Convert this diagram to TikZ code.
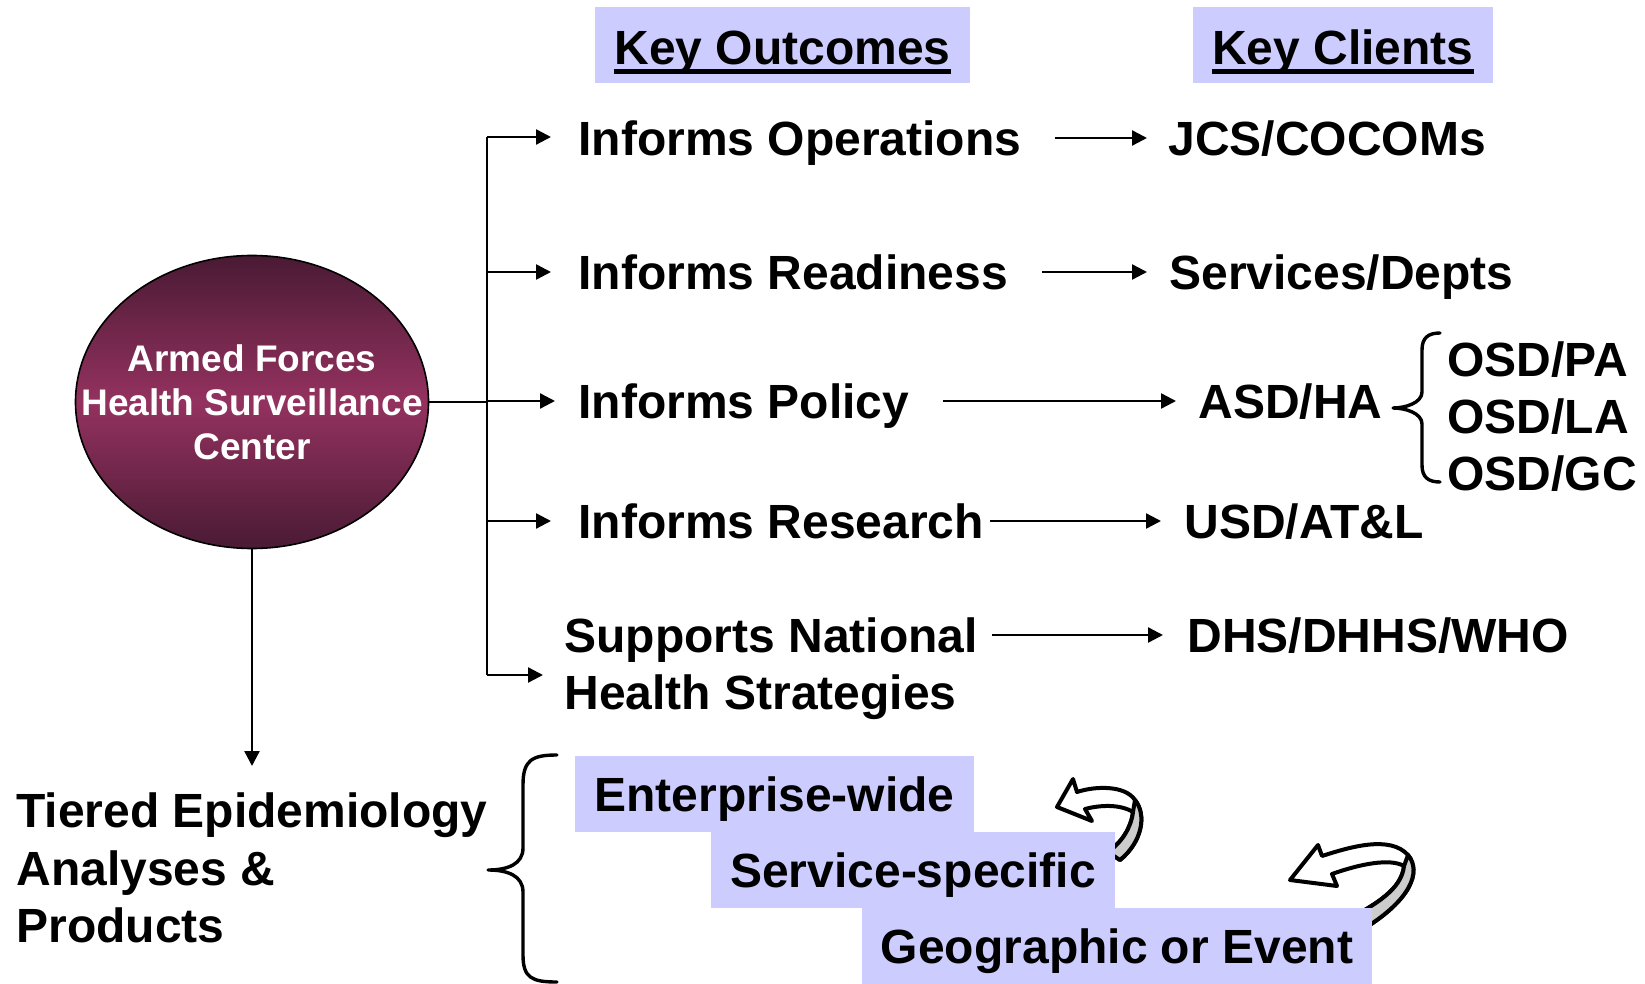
\documentclass[tikz,border=0pt]{standalone}
\usepackage{fontspec}
\setmainfont{Liberation Sans}
\usetikzlibrary{arrows.meta,shapes.geometric}
\definecolor{lav}{HTML}{CCCCFF}
\definecolor{ellDark}{HTML}{4A1A34}
\definecolor{ellMid}{HTML}{94325F}
\definecolor{bandgray}{HTML}{CCCCCC}
\begin{document}
\begin{tikzpicture}[x=0.5pt,y=-0.5pt,
  lbl/.style={font=\fontsize{24}{28.75}\selectfont\bfseries, inner sep=0pt, anchor=west, text height=17.2pt, text depth=0pt},
  multi/.style={inner sep=0pt, anchor=west, align=left},
  arr/.style={line width=1.2pt, -{Triangle[length=7.5pt,width=7.5pt]}},
  conn/.style={line width=1.2pt},
  headbox/.style={fill=lav, inner sep=0pt, minimum height=38pt},
  tbox/.style={fill=lav, inner sep=0pt, minimum height=38pt, font=\fontsize{24}{28.75}\selectfont\bfseries, text height=17.2pt, text depth=0pt},
  ul/.style={line width=2.2pt},
  brace/.style={line width=1.7pt, line cap=round, line join=round},
  curl/.style={line width=2pt, line join=round}
]
\useasboundingbox (0,0) rectangle (1645,984);

% header boxes
\node[headbox, minimum width=187.5pt] (ko) at (782.5,45) {};
\node[lbl, anchor=center] (kot) at ([yshift=-1pt]ko.center) {Key Outcomes};
\draw[ul] ([yshift=-3.5pt]kot.south west) -- ([yshift=-3.5pt]kot.south east);
\node[headbox, minimum width=150pt] (kc) at (1343,45) {};
\node[lbl, anchor=center] (kct) at ([yshift=-1pt]kc.center) {Key Clients};
\draw[ul] ([yshift=-3.5pt]kct.south west) -- ([yshift=-3.5pt]kct.south east);

% ellipse
\node[ellipse, draw=black, line width=0.8pt, minimum width=176.5pt, minimum height=146.5pt, inner sep=0pt,
      top color=ellDark, bottom color=ellDark, middle color=ellMid] (ell) at (252,402) {};
\node[font=\fontsize{18.5}{22}\selectfont\bfseries, text=white, align=center, inner sep=0pt] (elltxt) at (ell.center) {Armed Forces\\Health Surveillance\\Center};

% trunk
\coordinate (t1) at (487,137);
\coordinate (t2) at (487,272);
\coordinate (t3) at (487,401);
\coordinate (t4) at (487,521);
\coordinate (t5) at (487,675);
\draw[conn] (t1) -- (t5);
\draw[conn] (ell.east) -- (ell.east -| t1);

% outcomes
\node[lbl] (o1) at (578,138) {Informs Operations};
\node[lbl] (o2) at (578,272) {Informs Readiness};
\node[lbl] (o3) at (578,401) {Informs Policy};
\node[lbl] (o4) at (578,521) {Informs Research};
\node[multi, font=\fontsize{24}{28.5}\selectfont\bfseries] (o5) at (564,669) {Supports National\\Health Strategies};

\draw[arr, shorten >=13.5pt] (t1) -- (t1 -| o1.west);
\draw[arr, shorten >=13.5pt] (t2) -- (t2 -| o2.west);
\draw[arr, shorten >=11.5pt] (t3) -- (t3 -| o3.west);
\draw[arr, shorten >=13.5pt] (t4) -- (t4 -| o4.west);
\draw[arr, shorten >=10.5pt] (t5) -- (t5 -| o5.west);

% clients
\node[lbl] (c1) at (1168,138) {JCS/COCOMs};
\node[lbl] (c2) at (1169,272) {Services/Depts};
\node[lbl] (c3) at (1198,401) {ASD/HA};
\node[lbl] (c4) at (1184,521) {USD/AT\&L};
\node[lbl] (c5) at (1187,635) {DHS/DHHS/WHO};
\node[multi, font=\fontsize{24}{28.5}\selectfont\bfseries] (osd) at (1447,417) {OSD/PA\\OSD/LA\\OSD/GC};

\draw[arr, shorten <=16.5pt, shorten >=10.5pt] (o1.east) -- (c1.west);
\draw[arr, shorten <=17pt, shorten >=11pt] (o2.east) -- (c2.west);
\draw[arr, shorten <=16.5pt, shorten >=11pt] (o3.east) -- (c3.west);
\draw[arr, shorten <=3pt, shorten >=11.5pt] (o4.east) -- (c4.west);
\draw[arr, shorten <=7pt, shorten >=12pt] (o5.east |- c5.west) -- (c5.west);

% brace to OSD
\draw[brace] (1440,333) .. controls (1428,333) and (1422,338) .. (1422,350) -- (1422,392)
  .. controls (1422,403) and (1405,408) .. (1393,408)
  .. controls (1405,408) and (1422,413) .. (1422,424) -- (1422,465)
  .. controls (1422,477) and (1428,482) .. (1440,482);

% down arrow to tiered
\coordinate (dn) at (252,766);
\draw[arr] (ell.south) -- (dn);
\node[multi, font=\fontsize{24}{28.75}\selectfont\bfseries] (tier) at (16,868) {Tiered Epidemiology\\Analyses \&\\Products};

% big brace
\draw[brace] (557,755) .. controls (532,755) and (523,760) .. (523,785) -- (523,848)
  .. controls (523,864) and (508,870) .. (488,870)
  .. controls (508,870) and (523,876) .. (523,892) -- (523,955)
  .. controls (523,978) and (532,982) .. (557,982);

% curled arrows (behind boxes)
\draw[curl, fill=white] (1057,807) -- (1073,779) -- (1077,792)
  .. controls (1095,786) and (1125,785) .. (1135,800)
  .. controls (1147,815) and (1142,842) .. (1120,860)
  -- (1108,852)
  .. controls (1122,842) and (1131,828) .. (1133,812)
  .. controls (1120,804) and (1100,805) .. (1085,809)
  -- (1092,821) -- cycle;
\draw[curl, fill=bandgray] (1133,812) .. controls (1131,828) and (1122,842) .. (1108,852)
  -- (1120,860) .. controls (1142,842) and (1147,815) .. (1135,800) -- cycle;

\draw[curl, fill=white] (1290,880) -- (1318,845) -- (1322,856)
  .. controls (1350,847) and (1390,835) .. (1408,855)
  .. controls (1422,872) and (1410,900) .. (1365,928)
  -- (1350,918)
  .. controls (1385,900) and (1402,885) .. (1404,866)
  .. controls (1390,858) and (1360,864) .. (1332,874)
  -- (1337,886) -- cycle;
\draw[curl, fill=bandgray] (1404,866) .. controls (1402,885) and (1385,900) .. (1350,918)
  -- (1365,928) .. controls (1410,900) and (1422,872) .. (1408,855) -- cycle;

% tier boxes
\node[tbox, minimum width=199.5pt] (ent) at (774.5,794) {Enterprise-wide};
\node[tbox, minimum width=202pt] (svc) at (913,870) {Service-specific};
\node[tbox, minimum width=255pt] (geo) at (1117,946) {Geographic or Event};
\end{tikzpicture}
\end{document}
